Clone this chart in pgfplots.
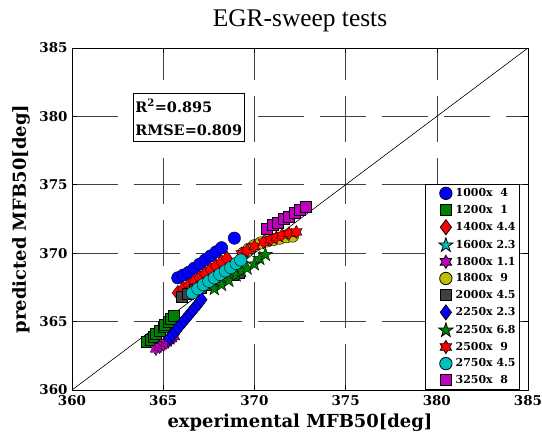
\documentclass[border=0pt]{standalone}
\usepackage{fontspec}
\setmainfont{Liberation Serif}
\newfontfamily\bfont{DejaVu Serif}[BoldFont={DejaVu Serif Bold}]
\usepackage{pgfplots}
\pgfplotsset{compat=1.18}

\definecolor{mgreen}{rgb}{0,0.5,0}
\definecolor{mcyan}{rgb}{0,0.75,0.75}
\definecolor{mmag}{rgb}{0.75,0,0.75}
\definecolor{molive}{rgb}{0.75,0.75,0}
\definecolor{mgrey}{rgb}{0.25,0.25,0.25}

% filled five- and six-pointed stars (MATLAB 'p' and 'h')
\pgfdeclareplotmark{pentagram}{%
  \pgfpathmoveto{\pgfpointpolar{90}{1.25\pgfplotmarksize}}%
  \pgfpathlineto{\pgfpointpolar{126}{0.48\pgfplotmarksize}}%
  \pgfpathlineto{\pgfpointpolar{162}{1.25\pgfplotmarksize}}%
  \pgfpathlineto{\pgfpointpolar{198}{0.48\pgfplotmarksize}}%
  \pgfpathlineto{\pgfpointpolar{234}{1.25\pgfplotmarksize}}%
  \pgfpathlineto{\pgfpointpolar{270}{0.48\pgfplotmarksize}}%
  \pgfpathlineto{\pgfpointpolar{306}{1.25\pgfplotmarksize}}%
  \pgfpathlineto{\pgfpointpolar{342}{0.48\pgfplotmarksize}}%
  \pgfpathlineto{\pgfpointpolar{18}{1.25\pgfplotmarksize}}%
  \pgfpathlineto{\pgfpointpolar{54}{0.48\pgfplotmarksize}}%
  \pgfpathclose
  \pgfusepathqfillstroke
}
\pgfdeclareplotmark{hexagram}{%
  \pgfpathmoveto{\pgfpointpolar{90}{1.2\pgfplotmarksize}}%
  \pgfpathlineto{\pgfpointpolar{120}{0.69\pgfplotmarksize}}%
  \pgfpathlineto{\pgfpointpolar{150}{1.2\pgfplotmarksize}}%
  \pgfpathlineto{\pgfpointpolar{180}{0.69\pgfplotmarksize}}%
  \pgfpathlineto{\pgfpointpolar{210}{1.2\pgfplotmarksize}}%
  \pgfpathlineto{\pgfpointpolar{240}{0.69\pgfplotmarksize}}%
  \pgfpathlineto{\pgfpointpolar{270}{1.2\pgfplotmarksize}}%
  \pgfpathlineto{\pgfpointpolar{300}{0.69\pgfplotmarksize}}%
  \pgfpathlineto{\pgfpointpolar{330}{1.2\pgfplotmarksize}}%
  \pgfpathlineto{\pgfpointpolar{0}{0.69\pgfplotmarksize}}%
  \pgfpathlineto{\pgfpointpolar{30}{1.2\pgfplotmarksize}}%
  \pgfpathlineto{\pgfpointpolar{60}{0.69\pgfplotmarksize}}%
  \pgfpathclose
  \pgfusepathqfillstroke
}

\begin{document}
\begin{tikzpicture}
\begin{axis}[
  scale only axis, width=456bp, height=342bp,
  at={(0,0)}, anchor=south west,
  xmin=360, xmax=385, ymin=360, ymax=385,
  xtick={360,365,...,385}, ytick={360,365,...,385},
  tick align=inside, major tick length=5bp,
  grid=major,
  major grid style={black!75, line width=0.6bp, dash pattern=on 46bp off 16bp},
  axis line style={line width=0.8bp},
  tick style={black, line width=0.6bp},
  ticklabel style={font=\bfont\bfseries\fontsize{13.5}{13.5}\selectfont},
  xticklabel style={yshift=-2bp},
  yticklabel style={xshift=-1bp},
  /pgf/number format/assume math mode=true,
  /pgf/number format/1000 sep={},
  xlabel={experimental MFB50[deg]},
  ylabel={predicted MFB50[deg]},
  label style={font=\bfont\bfseries\fontsize{18}{18}\selectfont},
  xlabel style={at={(axis description cs:0.5,-0.111)}, anchor=base},
  ylabel style={at={(axis description cs:-0.1009,0.5)}, anchor=base},
  title={EGR-sweep tests},
  title style={font=\fontsize{25.5}{25.5}\selectfont, at={(axis description cs:0.5,1.044)}, anchor=base},
  only marks,
  every axis plot/.append style={mark options={draw=black, line width=0.5bp}},
  legend image code/.code={\path (0cm,0cm) (0.9cm,0cm);
    \draw[#1] plot coordinates {(0.64cm,0cm)};},
  legend cell align=left,
  legend style={at={(axis description cs:0.774,0.602)}, anchor=north west,
    draw=black, line width=0.8bp, font=\bfont\bfseries\fontsize{11}{11}\selectfont,
    row sep=3bp, inner sep=2bp},
]
\addplot[sharp plot, mark=none, black, line width=0.6bp, forget plot]
  coordinates {(360,360) (385,385)};

\addplot[mark=*, mark size=6.2bp, mark options={fill=blue}] coordinates {
(365.8,368.2)(366.1,368.4)(366.4,368.6)(366.7,368.9)(367.0,369.2)
(367.3,369.5)(367.6,369.8)(367.9,370.1)(368.2,370.4)(368.9,371.1)};
\addlegendentry{1000x\ \ 4}

\addplot[mark=square*, mark size=5.5bp, mark options={fill=mgreen}] coordinates {
(364.1,363.5)(364.3,363.7)(364.5,363.9)(364.6,364.1)(364.8,364.3)
(365.0,364.6)(365.1,364.8)(365.3,365.0)(365.4,365.2)(365.6,365.4)};
\addlegendentry{1200x\ \ 1}

\addplot[mark=diamond*, mark size=7.5bp, mark options={fill=red}] coordinates {
(365.8,367.1)(366.1,367.4)(366.4,367.65)(366.7,367.95)(367.0,368.2)
(367.3,368.5)(367.6,368.8)(367.9,369.05)(368.2,369.35)(368.5,369.6)};
\addlegendentry{1400x 4.4}

\addplot[mark=pentagram, mark size=6bp, mark options={fill=mcyan}] coordinates {
(366.3,367.0)(366.6,367.25)(366.9,367.45)(367.2,367.7)(367.5,367.9)
(367.8,368.15)(368.1,368.4)(368.4,368.6)(368.8,368.9)};
\addlegendentry{1600x 2.3}

\addplot[mark=hexagram, mark size=5.5bp, mark options={fill=mmag}] coordinates {
(364.6,363.0)(364.8,363.15)(365.0,363.3)(365.15,363.45)(365.3,363.6)
(365.45,363.75)(365.6,363.9)};
\addlegendentry{1800x 1.1}

\addplot[mark=*, mark size=6.2bp, mark options={fill=molive}] coordinates {
(369.4,370.0)(369.7,370.3)(370.0,370.55)(370.35,370.75)(370.7,370.9)
(371.05,371.0)(371.4,371.1)(371.75,371.2)(372.1,371.25)};
\addlegendentry{1800x\ \ 9}

\addplot[mark=square*, mark size=5.5bp, mark options={fill=mgrey}] coordinates {
(366.0,366.8)(366.35,367.05)(366.7,367.3)(367.05,367.5)(367.4,367.7)
(367.75,367.9)(368.1,368.1)(368.45,368.3)(368.8,368.45)(369.15,368.6)};
\addlegendentry{2000x 4.5}

\addplot[mark=diamond*, mark size=7.5bp, mark options={fill=blue}] coordinates {
(365.35,363.8)(365.51,364.05)(365.67,364.3)(365.83,364.56)(365.99,364.82)
(366.15,365.07)(366.31,365.33)(366.47,365.58)(366.63,365.84)(366.79,366.09)
(366.95,366.35)(367.1,366.6)};
\addlegendentry{2250x 2.3}

\addplot[mark=pentagram, mark size=6bp, mark options={fill=mgreen}] coordinates {
(367.8,367.4)(368.2,367.7)(368.6,368.0)(369.0,368.4)(369.3,368.7)
(369.6,368.9)(370.0,369.2)(370.3,369.6)(370.6,369.9)};
\addlegendentry{2250x 6.8}

\addplot[mark=hexagram, mark size=5.5bp, mark options={fill=red}] coordinates {
(369.3,369.95)(369.6,370.2)(370.0,370.5)(370.5,370.8)(370.9,371.0)
(371.2,371.15)(371.5,371.3)(371.9,371.45)(372.3,371.55)};
\addlegendentry{2500x\ \ 9}

\addplot[mark=*, mark size=6.2bp, mark options={fill=mcyan}] coordinates {
(366.6,367.1)(366.9,367.4)(367.2,367.7)(367.5,367.95)(367.8,368.2)
(368.1,368.45)(368.4,368.7)(368.7,368.95)(369.0,369.25)(369.25,369.5)};
\addlegendentry{2750x 4.5}

\addplot[mark=square*, mark size=5.5bp, mark options={fill=mmag}] coordinates {
(370.7,371.8)(371.0,372.05)(371.3,372.25)(371.6,372.5)(371.9,372.7)
(372.2,372.95)(372.5,373.15)(372.8,373.4)};
\addlegendentry{3250x\ \ 8}

\node[draw=black, fill=white, line width=0.8bp, anchor=north west, align=left,
  inner xsep=2bp, inner ysep=6bp, font=\bfont\bfseries\fontsize{14.5}{23}\selectfont]
  at (axis cs:363.34,381.71) {R\textsuperscript{2}=0.895\\RMSE=0.809};
\end{axis}
\pgfresetboundingbox
\path[use as bounding box] (-72bp,-47bp) rectangle (470bp,390bp);
\end{tikzpicture}
\end{document}
